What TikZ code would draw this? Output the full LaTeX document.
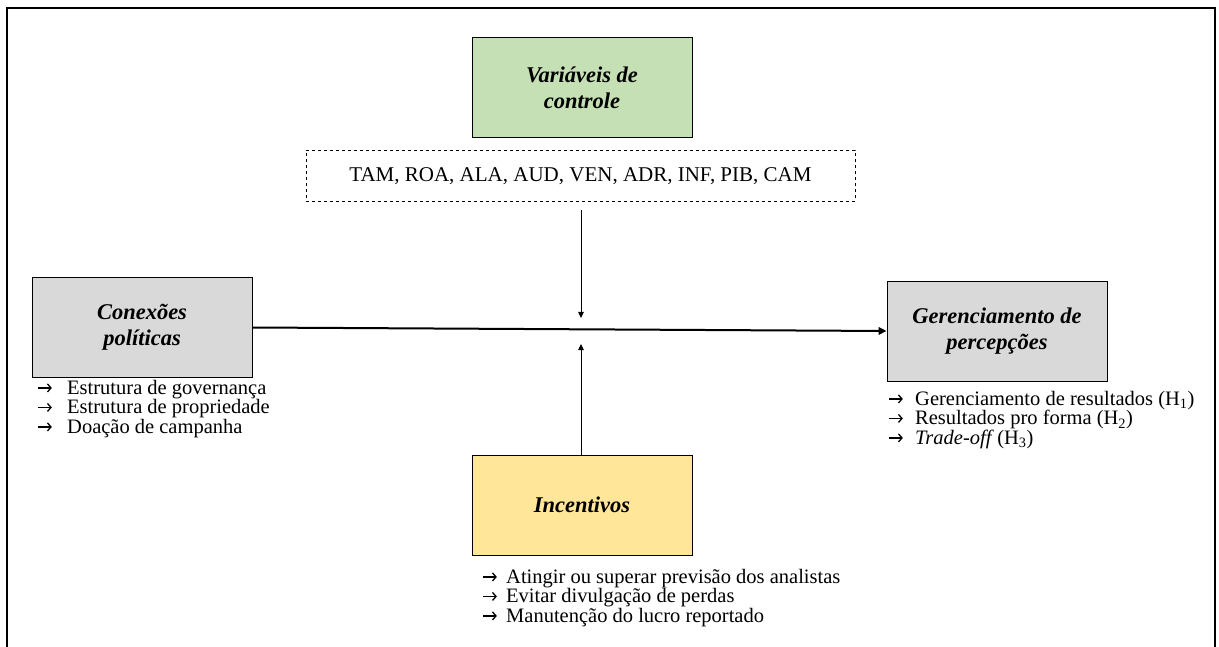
\documentclass[tikz,border=0pt]{standalone}
\usepackage{fontspec}
\setmainfont{Liberation Serif}
\usetikzlibrary{arrows.meta}
\definecolor{boxgreen}{HTML}{C5E0B4}
\definecolor{boxgray}{HTML}{D9D9D9}
\definecolor{boxyellow}{HTML}{FFE699}
\newcommand{\itm}[1]{\makebox[#1][l]{\tikz[baseline=0pt,x=1pt,y=1pt]\draw[line width=1.3pt,-{Straight Barb[length=3.5pt,width=8pt]}] (0,6.5) -- (14,6.5);}}
\tikzset{
  mainbox/.style={draw=black, line width=0.9pt, minimum width=220pt, minimum height=100pt, inner sep=0pt, align=center, font=\fontsize{22.5}{26}\selectfont\bfseries\itshape},
  listtext/.style={anchor=north west, inner sep=0pt, align=left, font=\fontsize{20.5}{19.5}\selectfont},
  conn/.style={draw=black, line width=0.8pt, -{Triangle[length=6pt,width=5.5pt]}},
  frame/.style={draw=black, line width=1.2pt}
}
\begin{document}
\begin{tikzpicture}[x=1pt,y=-1pt]
\useasboundingbox (0,0) rectangle (1219,647);
\draw[frame] (7,647) -- (7,8) -- (1215,8) -- (1215,647);

\node[mainbox, fill=boxgreen] (var) at (582,87.5) {Variáveis de\\controle};
\node[draw=black, dashed, line width=0.8pt, minimum width=549pt, minimum height=51pt, inner sep=0pt, font=\fontsize{21}{24}\selectfont] (ctrl) at (580.5,176) {TAM, ROA, ALA, AUD, VEN, ADR, INF, PIB, CAM};
\node[mainbox, fill=boxgray] (con) at (142,327.5) {Conexões\\políticas};
\node[mainbox, fill=boxgray] (ger) at (997,331) {Gerenciamento de\\percepções};
\node[mainbox, fill=boxyellow] (inc) at (582,505) {Incentivos};

\coordinate (downend) at (581,318);
\coordinate (upend) at (581,344);

\draw[conn] ([yshift=-8pt]ctrl.south -| downend) -- (downend);
\draw[conn] (inc.north -| upend) -- (upend);
\draw[draw=black, line width=2pt, -{Triangle[length=8pt,width=7.5pt]}] (con.east) -- (ger.west);

\node[listtext] (conlist) at (37,380) {\itm{30pt}Estrutura de governança\\ \itm{30pt}Estrutura de propriedade\\ \itm{30pt}Doação de campanha};
\node[listtext] (gerlist) at (888,391) {\itm{27pt}Gerenciamento de resultados (H\textsubscript{1})\\ \itm{27pt}Resultados pro forma (H\textsubscript{2})\\ \itm{27pt}\textit{Trade-off}\,(H\textsubscript{3})};
\node[listtext] (inclist) at (482,569) {\itm{24pt}Atingir ou superar previsão dos analistas\\ \itm{24pt}Evitar divulgação de perdas\\ \itm{24pt}Manutenção do lucro reportado};
\end{tikzpicture}
\end{document}
